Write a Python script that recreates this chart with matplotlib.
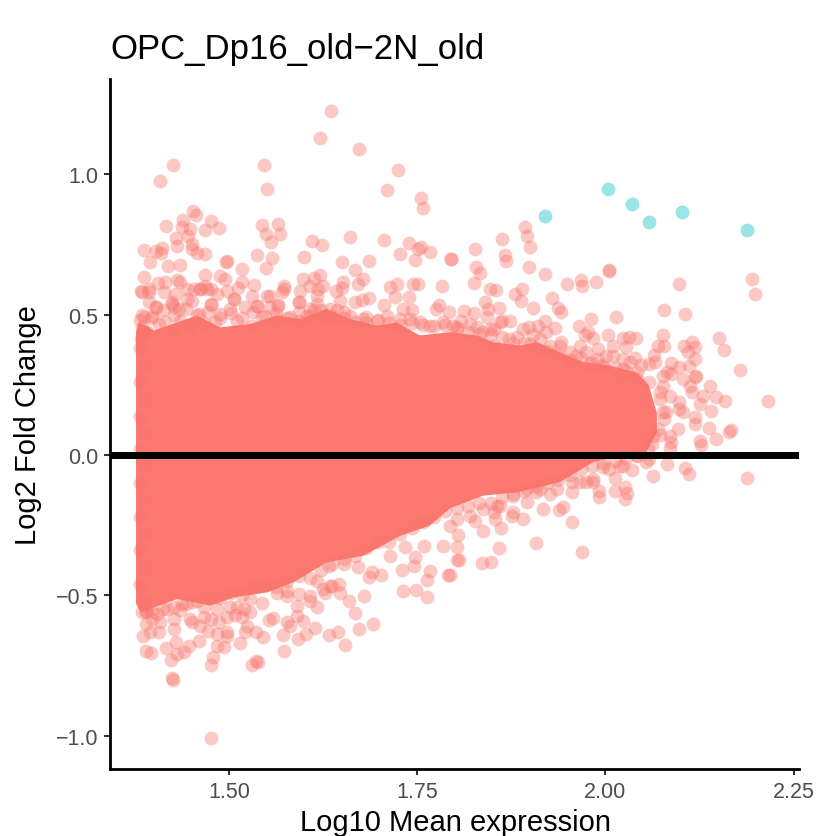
import matplotlib
matplotlib.use("Agg")
import matplotlib.pyplot as plt

plt.rcParams['font.family'] = ['Liberation Sans', 'DejaVu Sans']

title = "OPC_Dp16_old\u22122N_old"
xlabel = "Log10 Mean expression"
ylabel = "Log2 Fold Change"
xticks = [1.50, 1.75, 2.00, 2.25]
xticklabels = ["1.50", "1.75", "2.00", "2.25"]
yticks = [-1.0, -0.5, 0.0, 0.5, 1.0]
yticklabels = ["\u22121.0", "\u22120.5", "0.0", "0.5", "1.0"]

# Calibration of the x readings against the reference's tick marks
x_reading_correction = 0.0025

# Envelope of the saturated, fully overlapping mass of points
dense_top_x = [1.374,1.378,1.398,1.429,1.455,1.486,1.526,1.561,1.592,1.627,1.658,1.694,1.720,1.751,1.791,1.827,1.849,1.884,1.906,1.937,1.968,2.003,2.039,2.055,2.066]
dense_top_y = [0.440,0.473,0.444,0.473,0.497,0.455,0.467,0.497,0.485,0.521,0.485,0.461,0.473,0.426,0.438,0.426,0.402,0.390,0.402,0.366,0.331,0.319,0.295,0.250,0.150]
dense_bot_x = [1.374,1.380,1.429,1.473,1.504,1.548,1.583,1.627,1.676,1.725,1.764,1.791,1.835,1.880,1.937,1.981,2.030,2.052,2.066]
dense_bot_y = [-0.530,-0.561,-0.513,-0.537,-0.507,-0.490,-0.454,-0.383,-0.359,-0.288,-0.252,-0.190,-0.145,-0.133,-0.097,-0.026,0.005,0.010,0.080]

# Significant genes
sig_x = [1.918, 2.001, 2.033, 2.056, 2.100, 2.186]
sig_y = [0.851, 0.947, 0.895, 0.830, 0.865, 0.803]

# Individually visible genes, upper left
ul_x = [1.633,1.618,1.670,1.423,1.406,1.544,1.548,1.722,1.708,1.753,1.755,1.450,1.453,1.414,1.437,1.435,1.446,1.474,1.484,1.466,
        1.427,1.443,1.542,1.563,1.565,1.546,1.553,1.608,1.621,1.658,1.704,1.737,1.752,1.748,1.725,1.764,1.792,1.744,1.384,1.401,
        1.409,1.407,1.429,1.448,1.448,1.392,1.416,1.432,1.455,1.466,1.535,1.555,1.546,1.597,1.648,1.684,1.665,1.675,1.669,1.515,
        1.495,1.493,1.384,1.465,1.485,1.492,1.403,1.413,1.429,1.433,1.466,1.391,1.381,1.451,1.459,1.473,1.515,1.509,1.531,1.570,
        1.568,1.596,1.611,1.619,1.623,1.605,1.592,1.616,1.639,1.649,1.648,1.711,1.721,1.742,1.749,1.780,1.718,1.736,1.683,1.674,
        1.703,1.776,1.790,1.773,1.591,1.645,1.665,1.535,1.504,1.473,1.442,1.422,1.400,1.424,1.552,1.563,1.614,1.632,1.650,1.680,
        1.740,1.725]
ul_y = [1.226,1.130,1.091,1.032,0.975,1.032,0.947,1.014,0.946,0.916,0.882,0.869,0.856,0.817,0.836,0.812,0.806,0.834,0.808,0.801,
        0.774,0.782,0.820,0.825,0.788,0.786,0.758,0.762,0.749,0.777,0.767,0.754,0.743,0.735,0.717,0.724,0.699,0.695,0.731,0.726,
        0.737,0.720,0.744,0.752,0.735,0.689,0.675,0.678,0.719,0.716,0.711,0.701,0.667,0.706,0.689,0.692,0.661,0.628,0.610,0.662,
        0.693,0.687,0.634,0.643,0.637,0.629,0.612,0.618,0.624,0.616,0.604,0.590,0.586,0.592,0.592,0.592,0.618,0.594,0.607,0.602,
        0.580,0.628,0.631,0.642,0.604,0.604,0.586,0.592,0.586,0.618,0.596,0.597,0.611,0.611,0.611,0.604,0.562,0.564,0.559,0.554,
        0.536,0.533,0.511,0.521,0.544,0.550,0.544,0.530,0.556,0.533,0.556,0.544,0.527,0.527,0.566,0.533,0.539,0.521,0.509,0.491,
        0.515,0.485]

# Upper right
ur_x = [1.891,1.894,1.897,1.860,1.824,1.864,1.866,1.793,1.826,1.831,1.823,1.896,1.917,2.002,2.002,1.946,1.965,1.967,1.985,2.096,
        2.193,2.197,1.844,1.852,1.877,1.887,1.886,1.927,1.901,1.934,1.939,2.076,2.103,1.838,1.842,1.856,1.810,1.823,1.806,1.840,
        1.871,1.860,1.917,1.896,1.908,1.930,1.979,2.012,1.962,1.975,1.981,1.970,2.001,2.021,2.038,2.029,2.074,2.067,2.076,2.148,
        2.155,2.177,2.102,2.112,2.116,2.107,2.117,2.062,2.037,2.085,2.108,2.136,2.116,2.085,2.045,2.056,2.021,2.008,2.025,1.988,
        1.964,1.939,1.911,1.897,1.827,1.849,1.869,1.849,1.999,1.977,2.017,2.074,2.101,2.039]
ur_y = [0.813,0.782,0.742,0.770,0.735,0.714,0.693,0.699,0.669,0.650,0.612,0.670,0.644,0.657,0.659,0.609,0.622,0.604,0.616,0.609,
        0.626,0.573,0.593,0.587,0.574,0.590,0.550,0.560,0.523,0.524,0.511,0.515,0.504,0.547,0.521,0.524,0.512,0.506,0.479,0.491,
        0.477,0.479,0.477,0.455,0.459,0.453,0.483,0.491,0.460,0.438,0.416,0.426,0.427,0.416,0.416,0.420,0.426,0.388,0.387,0.416,
        0.375,0.303,0.390,0.402,0.384,0.366,0.342,0.358,0.345,0.328,0.316,0.247,0.277,0.289,0.321,0.325,0.342,0.390,0.384,0.378,
        0.387,0.404,0.414,0.396,0.455,0.449,0.414,0.390,0.354,0.325,0.283,0.283,0.271,0.295]

# Lower right
lr_x = [2.213,2.112,2.127,2.145,2.156,2.123,2.138,2.096,2.117,2.116,2.135,2.165,2.162,2.145,2.123,2.124,2.085,2.084,2.068,2.094,
        2.078,2.054,2.079,2.103,2.108,2.061,2.186,2.052,2.033,2.017,1.994,2.010,2.023,2.011,2.026,2.023,1.989,1.989,1.981,1.953,
        1.972,1.953,1.941,1.936,1.915,1.953,1.905,1.966,1.856,1.846,1.834,1.803,1.801,1.802,1.791,1.859,1.835,1.888,1.873,1.851,
        1.824,1.893,1.853,1.924,1.906]
lr_y = [0.193,0.223,0.212,0.206,0.191,0.182,0.156,0.164,0.134,0.111,0.096,0.089,0.083,0.057,0.051,0.037,0.045,0.024,0.093,0.093,
        0.152,0.021,-0.032,-0.047,-0.069,-0.074,-0.082,-0.026,-0.052,-0.040,-0.044,-0.082,-0.115,-0.127,-0.135,-0.157,-0.129,-0.151,-0.097,-0.133,
        -0.097,-0.097,-0.186,-0.196,-0.192,-0.240,-0.312,-0.347,-0.331,-0.380,-0.385,-0.374,-0.327,-0.284,-0.428,-0.260,-0.272,-0.228,-0.216,-0.228,
        -0.234,-0.169,-0.180,-0.139,-0.133]

# Lower left
ll_x = [1.474,1.422,1.423,1.383,1.387,1.394,1.414,1.427,1.421,1.429,1.438,1.445,1.457,1.474,1.476,1.482,1.491,1.528,1.533,1.536,
        1.512,1.495,1.543,1.534,1.519,1.571,1.569,1.589,1.600,1.612,1.630,1.642,1.651,1.670,1.689,1.665,1.657,1.677,1.614,1.605,
        1.596,1.588,1.574,1.556,1.550,1.526,1.508,1.541,1.515,1.506,1.484,1.464,1.448,1.459,1.470,1.424,1.424,1.404,1.387,1.387,
        1.433,1.729,1.746,1.760,1.760,1.764,1.744,1.743,1.728,1.788,1.801,1.700,1.683,1.688,1.645,1.644,1.632,1.625,1.590,1.574,
        1.711,1.731,1.756,1.782,1.669,1.650,1.630]
ll_y = [-1.007,-0.796,-0.801,-0.644,-0.700,-0.707,-0.688,-0.665,-0.731,-0.709,-0.702,-0.680,-0.662,-0.747,-0.721,-0.680,-0.686,-0.747,-0.733,-0.739,
        -0.670,-0.646,-0.650,-0.629,-0.632,-0.700,-0.640,-0.657,-0.637,-0.618,-0.640,-0.629,-0.678,-0.619,-0.604,-0.564,-0.522,-0.503,-0.543,-0.519,
        -0.591,-0.573,-0.596,-0.582,-0.587,-0.561,-0.543,-0.528,-0.579,-0.570,-0.596,-0.579,-0.594,-0.611,-0.626,-0.620,-0.585,-0.632,-0.602,-0.557,
        -0.551,-0.484,-0.480,-0.507,-0.444,-0.412,-0.365,-0.395,-0.410,-0.427,-0.374,-0.429,-0.434,-0.418,-0.490,-0.460,-0.466,-0.492,-0.495,-0.504,
        -0.359,-0.329,-0.323,-0.323,-0.400,-0.389,-0.395]

# Genes along the rim of the dense mass
top_x = [1.382,1.395,1.41,1.425,1.44,1.455,1.47,1.485,1.50,1.515,1.53,1.545,1.56,1.575,1.59,1.605,1.62,1.635,1.65,1.665,
         1.68,1.695,1.71,1.725,1.74,1.755,1.77,1.785,1.80,1.815,1.83,1.845,1.86,1.875,1.89,1.905,1.92,1.935,1.95,1.965,
         1.98,1.995,2.01,2.025,2.04,2.055,2.07,2.075,2.07,2.06]
top_y = [0.50,0.49,0.515,0.50,0.52,0.50,0.51,0.49,0.505,0.49,0.51,0.495,0.505,0.49,0.51,0.495,0.515,0.495,0.49,0.475,
         0.47,0.48,0.47,0.465,0.47,0.465,0.46,0.465,0.455,0.44,0.43,0.43,0.42,0.40,0.40,0.38,0.37,0.36,0.34,0.345,
         0.33,0.32,0.31,0.30,0.27,0.26,0.20,0.13,0.07,0.04]
bot_x = [1.382,1.395,1.41,1.425,1.44,1.455,1.47,1.485,1.50,1.515,1.53,1.545,1.56,1.575,1.59,1.605,1.62,1.635,1.65,1.665,
         1.68,1.695,1.71,1.725,1.74,1.755,1.77,1.785,1.80,1.815,1.83,1.845,1.86,1.875,1.89,1.905,1.92,1.935,1.95,1.965,
         1.98,1.995,2.01,2.025,2.04]
bot_y = [-0.56,-0.56,-0.55,-0.54,-0.53,-0.52,-0.50,-0.51,-0.49,-0.50,-0.47,-0.46,-0.47,-0.45,-0.43,-0.44,-0.41,-0.39,-0.37,-0.36,
         -0.33,-0.31,-0.31,-0.28,-0.26,-0.24,-0.22,-0.20,-0.19,-0.18,-0.17,-0.17,-0.15,-0.14,-0.13,-0.11,-0.10,-0.09,-0.07,-0.05,
         -0.04,-0.03,-0.02,-0.01,0.0]
left_x = [1.379,1.384,1.379,1.384,1.379,1.384,1.379,1.384,1.379,1.384,1.379,1.384,1.379,1.384,1.379,1.384,1.379,1.384]
left_y = [0.48,0.44,0.38,0.32,0.26,0.20,0.14,0.08,0.02,-0.04,-0.10,-0.16,-0.22,-0.28,-0.34,-0.40,-0.46,-0.52]

# Fringe of overlapping genes just outside the dense mass
f1_x = [1.382,1.391,1.411,1.426,1.442,1.459,1.468,1.482,1.495,1.504,1.535,1.528,1.548,1.570,1.590,1.614,1.391,1.400,1.422,1.431,
        1.448,1.473,1.499,1.519,1.552,1.563,1.579,1.610,1.384,1.395,1.413,1.433,1.457,1.479,1.486,1.508,1.541,1.561,1.590,1.601,
        1.382,1.389,1.380,1.404,1.424,1.446,1.466,1.528]
f1_y = [0.580,0.580,0.580,0.574,0.592,0.592,0.592,0.574,0.586,0.556,0.532,0.568,0.568,0.592,0.544,0.568,0.544,0.526,0.538,0.521,
        0.550,0.538,0.521,0.526,0.526,0.532,0.491,0.515,0.491,0.497,0.473,0.479,0.503,0.473,0.503,0.479,0.491,0.485,0.479,0.497,
        0.455,0.437,0.414,0.467,0.443,0.455,0.467,0.461]
f2_x = [1.800,1.818,1.833,1.844,1.858,1.880,1.888,1.902,1.919,1.937,1.950,1.924,1.959,1.972,1.986,2.008,2.030,1.995,2.021,2.063,2.096,2.118,2.079,
        1.605,1.623,1.641,1.658,1.676,1.694,1.707,1.729,1.738,1.751,1.764,1.782,1.795]
f2_y = [0.449,0.467,0.438,0.449,0.473,0.420,0.449,0.426,0.438,0.390,0.366,0.390,0.354,0.366,0.342,0.354,0.331,0.313,0.307,0.331,0.313,0.283,0.295,
        0.521,0.497,0.515,0.497,0.485,0.479,0.497,0.521,0.485,0.473,0.461,0.473,0.461]
f3_x = [1.387,1.395,1.402,1.415,1.435,1.448,1.464,1.473,1.482,1.495,1.499,1.517,1.526,1.521,1.495,1.482,1.446,1.406,1.393,1.389,1.561,1.574,1.605,1.634,1.623,1.579,1.588,1.614,
        2.003,2.021,1.981,1.964,1.933,1.911,1.893,1.875,1.858,1.835,1.818,1.800,1.875,1.849,1.791,2.039,2.056]
f3_y = [-0.561,-0.585,-0.567,-0.549,-0.531,-0.525,-0.543,-0.585,-0.549,-0.579,-0.543,-0.549,-0.513,-0.608,-0.632,-0.638,-0.585,-0.596,-0.632,-0.537,-0.490,-0.484,-0.501,-0.466,-0.478,-0.608,-0.537,-0.448,
        -0.050,-0.038,-0.085,-0.097,-0.121,-0.121,-0.121,-0.145,-0.180,-0.192,-0.216,-0.228,-0.204,-0.204,-0.252,-0.002,-0.014]
f4_x = [2.074,2.083,2.070,2.096,2.074,2.083,2.061,2.101,2.110]
f4_y = [0.247,0.212,0.223,0.188,0.152,0.069,0.069,0.152,0.247]

W, H = 821, 837
fig = plt.figure(figsize=(W / 100, H / 100), dpi=100)
ax = fig.add_axes([110 / W, 1 - 770 / H, (799 - 110) / W, (770 - 80) / H])

red = '#F8766D'
poly_x = dense_top_x + dense_bot_x[::-1]
poly_y = dense_top_y + dense_bot_y[::-1]
ax.fill([v + x_reading_correction for v in poly_x], poly_y, color='#FB7970', lw=0, zorder=1)
for xs, ys in [(ul_x, ul_y), (ur_x, ur_y), (lr_x, lr_y), (ll_x, ll_y),
               (top_x, top_y), (bot_x, bot_y), (left_x, left_y),
               (f1_x, f1_y), (f2_x, f2_y), (f3_x, f3_y), (f4_x, f4_y)]:
    ax.scatter([v + x_reading_correction for v in xs], ys, s=100, color=red, alpha=0.4,
               linewidths=0, zorder=2)
ax.scatter([v + x_reading_correction for v in sig_x], sig_y, s=100, color='#00BFC4', alpha=0.4,
           linewidths=0, zorder=2)
ax.axhline(0, color='black', lw=5, zorder=3)

ax.set_xlim(1.3419, 2.2573)
ax.set_ylim(-1.119, 1.340)
ax.set_xticks(xticks, xticklabels)
ax.set_yticks(yticks, yticklabels)
ax.tick_params(axis='both', length=4.5, width=1.5, color='#333333', labelsize=15.5,
               labelcolor='#4D4D4D', pad=4)
for s in ['top', 'right']:
    ax.spines[s].set_visible(False)
for s in ['left', 'bottom']:
    ax.spines[s].set_linewidth(2)
    ax.spines[s].set_color('black')

ax.set_title(title, loc='left', fontsize=25, color='black', pad=15)
fig.text(455 / W, 1 - 823 / H, xlabel, ha='center', va='center', fontsize=21, color='black')
fig.text(28 / W, 1 - 425 / H, ylabel, ha='center', va='center', rotation=90, fontsize=21, color='black')

fig.savefig('out.png', dpi=100)
